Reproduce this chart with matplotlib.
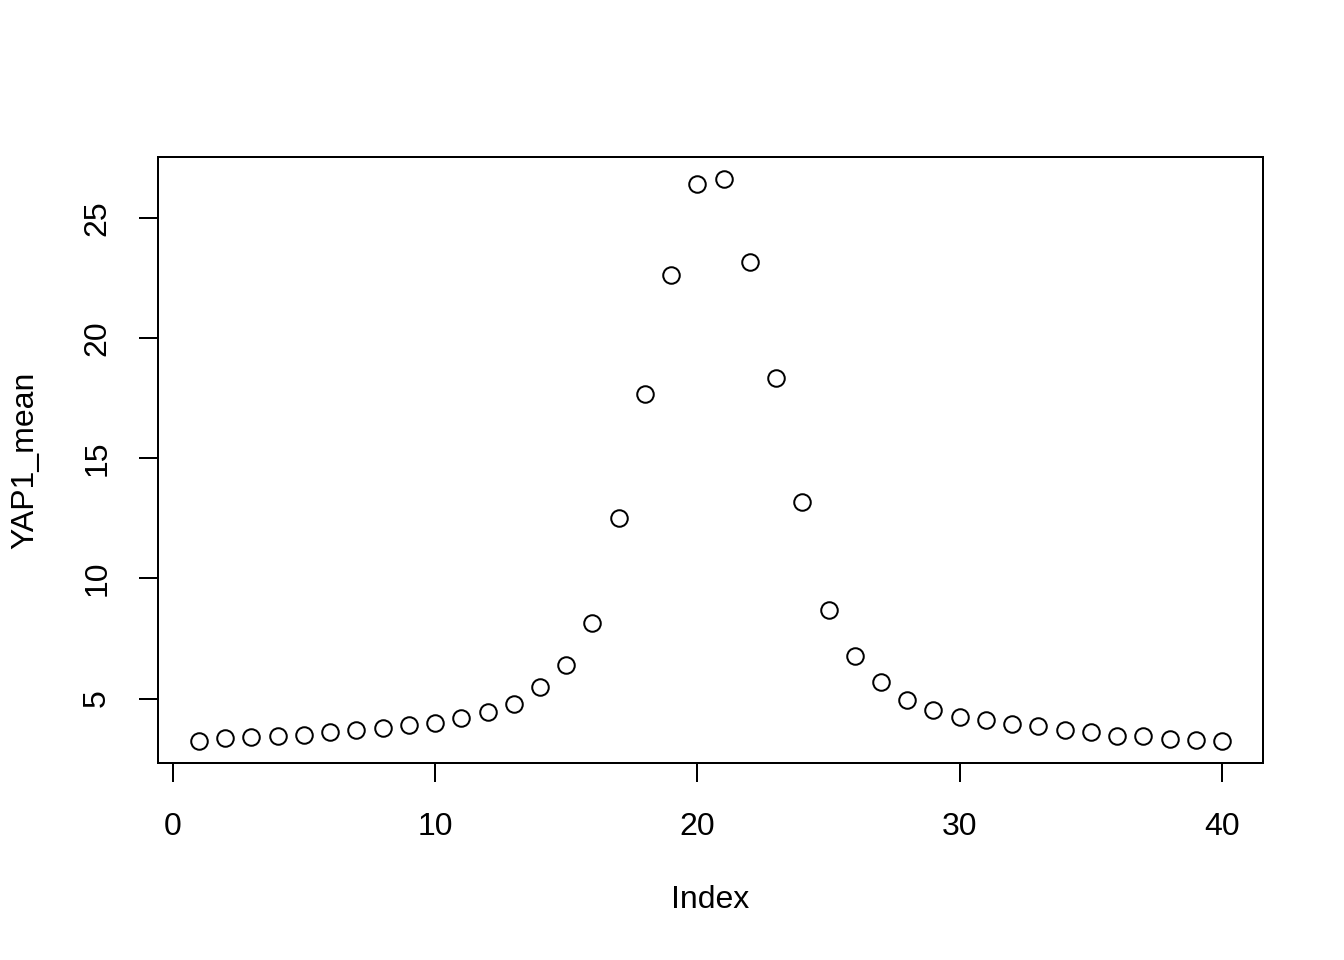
import numpy as np
import matplotlib
matplotlib.use("Agg")
import matplotlib.pyplot as plt

plt.rcParams['font.family'] = ['Liberation Sans', 'DejaVu Sans']

index = np.arange(1, 41)
yap1_mean = [3.25, 3.34, 3.38, 3.42, 3.50, 3.59, 3.67, 3.79, 3.88, 4.00,
             4.21, 4.42, 4.79, 5.46, 6.41, 8.16, 12.53, 17.68, 22.63, 26.41,
             26.62, 23.17, 18.35, 13.19, 8.70, 6.79, 5.67, 4.96, 4.54, 4.25,
             4.09, 3.92, 3.84, 3.71, 3.59, 3.46, 3.42, 3.30, 3.28, 3.25]

fig = plt.figure(figsize=(7, 5), dpi=192)
ax = fig.add_axes([0.1176, 0.2052, 0.8221, 0.6313])

ax.plot(index, yap1_mean, 'o', markerfacecolor='none', markeredgecolor='black',
        markersize=6.2, markeredgewidth=0.75)

# R style 4% padding
lo, hi = min(yap1_mean), max(yap1_mean)
pad = (hi - lo) * 0.04
ax.set_ylim(lo - pad, hi + pad)
ax.set_xlim(1 - 39 * 0.04, 40 + 39 * 0.04)

ax.set_xticks([0, 10, 20, 30, 40])
ax.set_yticks([5, 10, 15, 20, 25])
ax.tick_params(direction='out', length=7.2, width=0.75, labelsize=12)
ax.tick_params(axis='x', pad=11)
ax.tick_params(axis='y', pad=10)
for lab in ax.get_yticklabels():
    lab.set_rotation(90)
    lab.set_va('center')
for s in ax.spines.values():
    s.set_linewidth(0.75)

ax.set_xlabel('Index', fontsize=12, va='center')
ax.set_ylabel('YAP1_mean', fontsize=12, va='center')
ax.xaxis.set_label_coords(0.5, -0.226)
ax.yaxis.set_label_coords(-0.1204, 0.5)

fig.savefig('out.png', dpi=192)
